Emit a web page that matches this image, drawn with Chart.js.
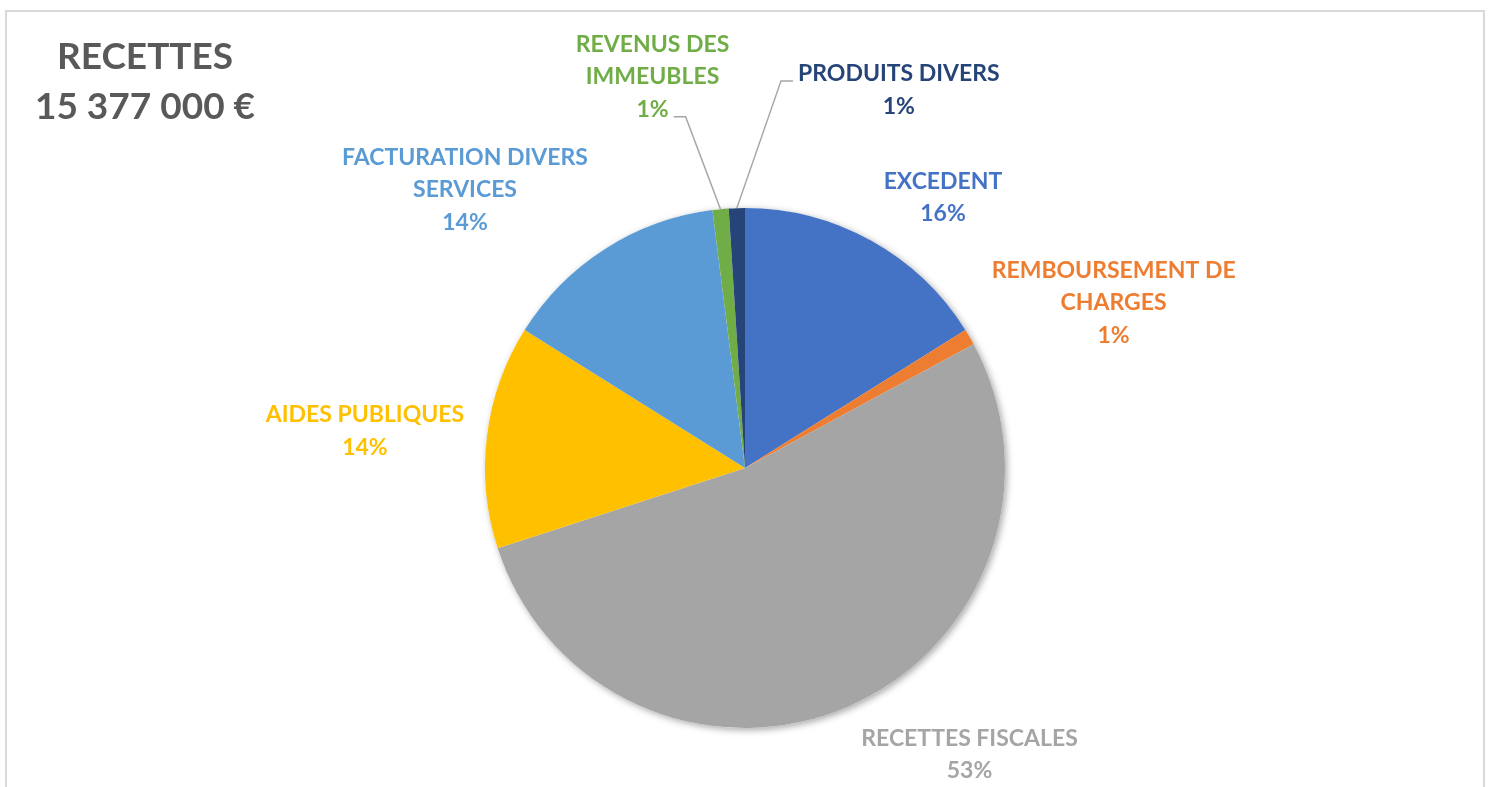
<!DOCTYPE html>
<html>
<head>
<meta charset="utf-8">
<title>Recettes</title>
<script src="https://cdn.jsdelivr.net/npm/chart.js@4.4.0/dist/chart.umd.min.js"></script>
<style>
  html, body { margin: 0; padding: 0; background: #fff; overflow: hidden; }
  #wrap { position: relative; width: 1491px; height: 787px; }
</style>
</head>
<body>
<div id="wrap"><canvas id="pie" width="1491" height="787"></canvas></div>
<script>
// data (shares in % of total recettes)
const categories = [
  ['EXCEDENT'],
  ['REMBOURSEMENT DE', 'CHARGES'],
  ['RECETTES FISCALES'],
  ['AIDES PUBLIQUES'],
  ['FACTURATION DIVERS', 'SERVICES'],
  ['REVENUS DES', 'IMMEUBLES'],
  ['PRODUITS DIVERS']
];
const shares = [16.1, 1.0, 52.9, 13.9, 14.1, 1.0, 1.0];
const colors = ['#4472C4', '#ED7D31', '#A5A5A5', '#FFC000', '#5B9BD5', '#70AD47', '#264478'];
const titleLines = ['RECETTES', '15 377 000 €'];

// label placement: shift from the slice's outer mid point, and which ones get a leader line
const labelShift = [[72, -44], [144, -35], [122, 47], [-122, -6], [-140, -60], [-68, -133], [162, -119]];
const leader = [false, false, false, false, false, true, true];

const FONT = '"Lato", "Liberation Sans", sans-serif';
const LINE_H = 32.5;
const CAP_HALF = 8.3;

const frame = {
  id: 'frame',
  beforeDraw(chart) {
    const c = chart.ctx;
    c.save();
    c.strokeStyle = '#d9d9d9';
    c.lineWidth = 2;
    c.beginPath();
    c.moveTo(6, 787); c.lineTo(6, 11); c.lineTo(1484, 11); c.lineTo(1484, 787);
    c.stroke();
    c.fillStyle = '#595959';
    c.font = 'bold 37px ' + FONT;
    c.textAlign = 'center';
    c.textBaseline = 'alphabetic';
    c.fillText(titleLines[0], 145, 69);
    c.fillText(titleLines[1], 145, 119);
    c.restore();
  },
  beforeDatasetsDraw(chart) {
    // soft shadow under the whole pie
    const arc = chart.getDatasetMeta(0).data[0];
    if (!arc) return;
    const c = chart.ctx;
    c.save();
    c.shadowColor = 'rgba(0,0,0,0.35)';
    c.shadowBlur = 7;
    c.shadowOffsetX = 2;
    c.shadowOffsetY = 2;
    c.fillStyle = '#fff';
    c.beginPath();
    c.arc(arc.x, arc.y, arc.outerRadius, 0, Math.PI * 2);
    c.fill();
    c.restore();
  }
};

const sliceLabels = {
  id: 'sliceLabels',
  afterDatasetsDraw(chart) {
    const c = chart.ctx;
    const meta = chart.getDatasetMeta(0);
    const total = shares.reduce((a, b) => a + b, 0);
    c.save();
    c.font = 'bold 23px ' + FONT;
    c.textAlign = 'center';
    c.textBaseline = 'alphabetic';
    meta.data.forEach((arc, i) => {
      const mid = (arc.startAngle + arc.endAngle) / 2;
      const ex = arc.x + Math.cos(mid) * arc.outerRadius;
      const ey = arc.y + Math.sin(mid) * arc.outerRadius;
      const lines = [...categories[i], Math.round(shares[i] / total * 100) + '%'];
      const cx = ex + labelShift[i][0];
      const cy = ey + labelShift[i][1];
      const ys = lines.map((_, k) => cy + (k - (lines.length - 1) / 2) * LINE_H);

      if (leader[i]) {
        // attach to the nearest line end
        let best = null;
        lines.forEach((t, k) => {
          const w = c.measureText(t).width;
          const side = cx > ex ? -1 : 1;
          const px = cx + side * (w / 2 + 5);
          const py = ys[k] + 8;
          const d = Math.hypot(px - ex, py - ey);
          if (!best || d < best.d) best = { px, py, side, d };
        });
        c.strokeStyle = '#a6a6a6';
        c.lineWidth = 1.5;
        c.beginPath();
        c.moveTo(best.px, best.py);
        c.lineTo(best.px + best.side * 12, best.py);
        c.lineTo(ex, ey);
        c.stroke();
      }

      c.fillStyle = colors[i];
      lines.forEach((t, k) => c.fillText(t, cx, ys[k] + CAP_HALF));
    });
    c.restore();
  }
};

new Chart(document.getElementById('pie'), {
  type: 'pie',
  data: {
    labels: categories,
    datasets: [{
      data: shares,
      backgroundColor: colors,
      borderWidth: 0
    }]
  },
  options: {
    responsive: false,
    animation: false,
    layout: { padding: { top: 208, bottom: 59, left: 485, right: 486 } },
    plugins: {
      legend: { display: false },
      tooltip: { enabled: false }
    }
  },
  plugins: [frame, sliceLabels]
});
</script>
</body>
</html>
